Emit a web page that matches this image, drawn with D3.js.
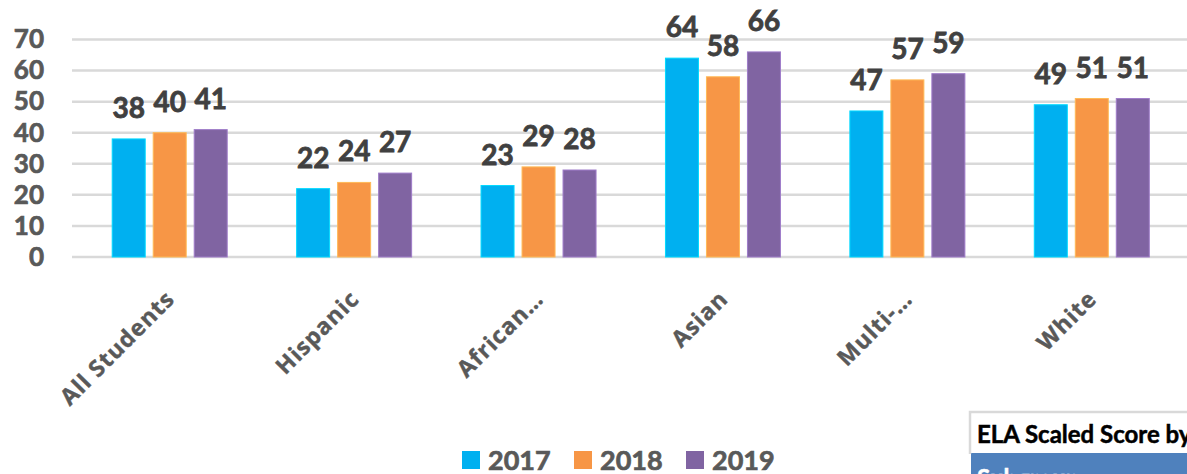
<!DOCTYPE html>
<html>
<head>
<meta charset="utf-8">
<script src="https://cdn.jsdelivr.net/npm/d3@7"></script>
<style>
  body { margin: 0; background: #fff; }
  svg { display: block; }
</style>
</head>
<body>
<svg id="chart" width="1187" height="474"></svg>
<script>
// chart data
const groups = ["All Students", "Hispanic", "African\u2026", "Asian", "Multi-\u2026", "White"];
const years = ["2017", "2018", "2019"];
const scores2017 = [38, 22, 23, 64, 47, 49];
const scores2018 = [40, 24, 29, 58, 57, 51];
const scores2019 = [41, 27, 28, 66, 59, 51];
const yTicks = [0, 10, 20, 30, 40, 50, 60, 70];
const colors = ["#00b0f0", "#f79646", "#8064a2"];

const tableTitle = "ELA Scaled Score by";
const tableHeader = "Subgroup";

const svg = d3.select("#chart");
const width = +svg.attr("width");
const numFont = "Lato";

let series = [scores2017, scores2018, scores2019];

// bold text looks heavier in the original, so add a thin stroke of the same colour
function heavy(sel, color, w){
    sel.attr("fill", color)
       .attr("stroke", color)
       .attr("stroke-width", w);
}

// scales
let y = d3.scaleLinear().domain([0, 70]).range([257, 39.5]);
let x0 = d3.scaleBand().domain(groups).range([77.5, 1184]).padding(0);
let x1 = d3.scaleBand().domain(years).range([-57.5, 57.5]).paddingInner(8 / 41).paddingOuter(0);

// gridlines
svg.append("g")
   .selectAll("line")
   .data(yTicks)
   .enter()
   .append("line")
   .attr("x1", 72)
   .attr("x2", width)
   .attr("y1", d => y(d))
   .attr("y2", d => y(d))
   .attr("stroke", "#d9d9d9")
   .attr("stroke-width", 2.5);

// y axis labels
let yAxis = svg.append("g")
   .attr("transform", "translate(44,0)")
   .call(d3.axisLeft(y).tickValues(yTicks).tickSize(0).tickPadding(0));
yAxis.select(".domain").remove();
yAxis.selectAll("text")
     .attr("font-family", numFont)
     .attr("font-weight", "bold")
     .attr("font-size", 26)
     .call(heavy, "#595959", 0.7);

// bars + labels
let rows = groups.map((g, i) => years.map((yr, j) => ({group: g, year: yr, value: series[j][i], k: j})));

let grp = svg.append("g")
   .selectAll("g")
   .data(rows)
   .enter()
   .append("g")
   .attr("transform", d => `translate(${x0(d[0].group) + x0.bandwidth() / 2},0)`);

grp.selectAll("rect")
   .data(d => d)
   .enter()
   .append("rect")
   .attr("x", d => x1(d.year))
   .attr("width", x1.bandwidth())
   .attr("y", d => y(d.value))
   .attr("height", d => y(0) - y(d.value))
   .attr("fill", d => colors[d.k])
   .attr("stroke", d => d3.color(colors[d.k]).brighter(0.6))
   .attr("stroke-width", 1);

grp.selectAll("text")
   .data(d => d)
   .enter()
   .append("text")
   .attr("x", d => x1(d.year) + x1.bandwidth() / 2)
   .attr("y", d => y(d.value) - 21)
   .attr("text-anchor", "middle")
   .attr("font-family", numFont)
   .attr("font-weight", "bold")
   .attr("font-size", 28)
   .call(heavy, "#404040", 0.8)
   .text(d => d.value);

// category labels, rotated
svg.append("g")
   .selectAll("text")
   .data(groups)
   .enter()
   .append("text")
   .attr("transform", d => `translate(${x0(d) + x0.bandwidth() / 2 - 5},${289}) rotate(-45)`)
   .attr("text-anchor", "end")
   .attr("dy", "0.7em")
   .attr("font-family", "Open Sans")
   .attr("font-weight", "bold")
   .attr("font-size", 23)
   .attr("letter-spacing", 1)
   .call(heavy, "#595959", 0.4)
   .text(d => d);

// legend
let legend = svg.append("g")
   .selectAll("g")
   .data(years)
   .enter()
   .append("g")
   .attr("transform", (d, i) => `translate(${462 + i * 112},451)`);

legend.append("rect")
      .attr("width", 18)
      .attr("height", 18)
      .attr("fill", (d, i) => colors[i]);

legend.append("text")
      .attr("x", 26)
      .attr("y", 18.5)
      .attr("font-family", numFont)
      .attr("font-weight", "bold")
      .attr("font-size", 27)
      .call(heavy, "#595959", 0.7)
      .text(d => d);

// piece of the table below the chart (cut off by the edge)
let tbl = svg.append("g");
tbl.append("rect")
   .attr("x", 971)
   .attr("y", 453)
   .attr("width", width - 971)
   .attr("height", 30)
   .attr("fill", "#4f81bd");
tbl.append("path")
   .attr("d", `M970,454 V412 H${width}`)
   .attr("fill", "none")
   .attr("stroke", "#d9d9d9")
   .attr("stroke-width", 2.5);
tbl.append("text")
   .attr("x", 977)
   .attr("y", 443)
   .attr("font-family", numFont)
   .attr("font-weight", "bold")
   .attr("font-size", 24)
   .call(heavy, "#000", 0.5)
   .text(tableTitle);
tbl.append("text")
   .attr("x", 977)
   .attr("y", 487)
   .attr("font-family", numFont)
   .attr("font-weight", "bold")
   .attr("font-size", 24)
   .call(heavy, "#fff", 0.5)
   .text(tableHeader);
</script>
</body>
</html>
